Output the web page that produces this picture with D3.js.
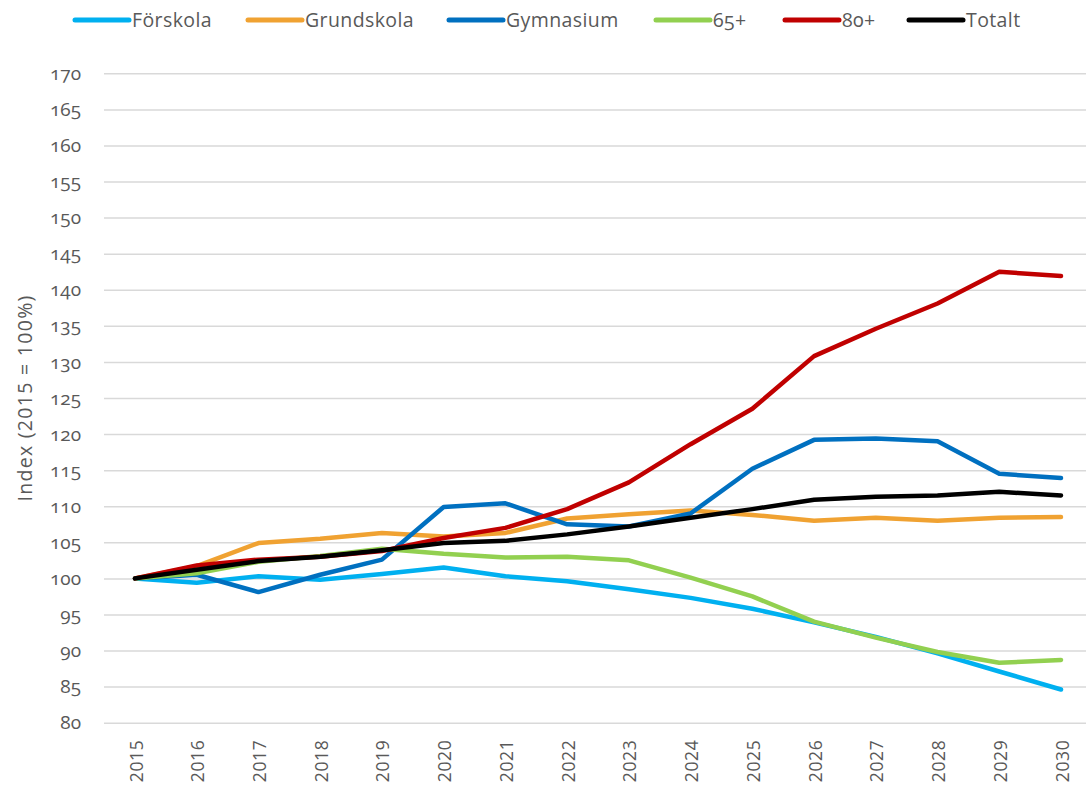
<!DOCTYPE html>
<html>
<head>
<meta charset="utf-8">
<script src="https://cdn.jsdelivr.net/npm/d3@7"></script>
<style>
  body { margin: 0; background: #fff; }
  svg text { font-family: "Open Sans", "Noto Sans", sans-serif; fill: #595959; }
  .onum { font-variant-numeric: oldstyle-nums; }
</style>
</head>
<body>
<svg id="chart" width="1086" height="786"></svg>
<script>
const years = [2015, 2016, 2017, 2018, 2019, 2020, 2021, 2022, 2023, 2024, 2025, 2026, 2027, 2028, 2029, 2030]
const yTicks = [80, 85, 90, 95, 100, 105, 110, 115, 120, 125, 130, 135, 140, 145, 150, 155, 160, 165, 170]

const forskola   = [100, 99.4, 100.3, 99.8, 100.6, 101.5, 100.3, 99.6, 98.5, 97.3, 95.8, 93.9, 91.9, 89.6, 87.1, 84.6]
const grundskola = [100, 101.7, 104.9, 105.5, 106.3, 105.8, 106.3, 108.3, 108.9, 109.4, 108.8, 108.0, 108.4, 108.0, 108.4, 108.5]
const gymnasium  = [100, 100.5, 98.1, 100.5, 102.6, 109.9, 110.4, 107.5, 107.2, 109.0, 115.2, 119.2, 119.4, 119.0, 114.5, 113.9]
const plus65     = [100, 100.7, 102.3, 103.1, 104.1, 103.4, 102.9, 103.0, 102.5, 100.1, 97.5, 94.0, 91.8, 89.8, 88.3, 88.7]
const plus80     = [100, 101.8, 102.6, 103.0, 103.8, 105.6, 107.0, 109.6, 113.3, 118.6, 123.5, 130.8, 134.6, 138.1, 142.5, 141.9]
const totalt     = [100, 101.2, 102.4, 103.0, 103.9, 104.9, 105.2, 106.1, 107.2, 108.4, 109.6, 110.9, 111.3, 111.5, 112.0, 111.5]

const series = [
  { name: 'Förskola', values: forskola, color: '#00B0F0' },
  { name: 'Grundskola', values: grundskola, color: '#F0A232' },
  { name: 'Gymnasium', values: gymnasium, color: '#0070C0' },
  { name: '65+', values: plus65, color: '#92D050' },
  { name: '80+', values: plus80, color: '#C00000' },
  { name: 'Totalt', values: totalt, color: '#000000' }
]

const svg = d3.select('#chart')

const x = d3.scalePoint().domain(years).range([135, 1061])
const y = d3.scaleLinear().domain([80, 170]).range([722.7, 73.3])
const gridLeft = 104, gridRight = 1086

// y axis with gridlines
const yAxis = svg.append('g')
  .attr('transform', `translate(${gridLeft},0)`)
  .call(d3.axisLeft(y).tickValues(yTicks).tickSize(-(gridRight - gridLeft)).tickPadding(23))

yAxis.select('.domain').remove()
yAxis.selectAll('line').attr('stroke', '#d9d9d9').attr('stroke-width', 1.5)
yAxis.selectAll('text')
  .attr('class', 'onum')
  .attr('font-size', 19)
  .attr('font-family', null)
  .style('fill', '#595959')

// x axis, rotated labels
const xAxis = svg.append('g')
  .attr('transform', `translate(0,${y(80)})`)
  .call(d3.axisBottom(x).tickSize(0))

xAxis.select('.domain').remove()
xAxis.selectAll('text')
  .attr('transform', 'rotate(-90)')
  .attr('x', -17)
  .attr('y', 0)
  .attr('dy', '0.4em')
  .attr('text-anchor', 'end')
  .attr('font-size', 17.5)
  .attr('letter-spacing', 0.6)
  .style('fill', '#595959')

// axis title
svg.append('text')
  .attr('transform', `translate(25,${(y(80) + y(170)) / 2}) rotate(-90)`)
  .attr('text-anchor', 'middle')
  .attr('dy', '0.35em')
  .attr('font-size', 19.5)
  .attr('letter-spacing', 1.3)
  .text('Index (2015 = 100%)')

// lines
const line = d3.line()
  .x((d, i) => x(years[i]))
  .y(d => y(d))

svg.append('g')
  .selectAll('path')
  .data(series)
  .join('path')
  .attr('fill', 'none')
  .attr('stroke', d => d.color)
  .attr('stroke-width', 4.5)
  .attr('stroke-linejoin', 'round')
  .attr('stroke-linecap', 'round')
  .attr('d', d => line(d.values))

// legend
const legendX = [75, 248, 449, 656, 785, 909]
const legend = svg.append('g')
  .selectAll('g')
  .data(series)
  .join('g')
  .attr('transform', (d, i) => `translate(${legendX[i]},20)`)

legend.append('line')
  .attr('x1', 0).attr('x2', 54)
  .attr('stroke', d => d.color)
  .attr('stroke-width', 5)
  .attr('stroke-linecap', 'round')

legend.append('text')
  .attr('class', 'onum')
  .attr('x', 57)
  .attr('dy', '0.35em')
  .attr('font-size', 19.5)
  .attr('letter-spacing', 0.4)
  .text(d => d.name)
</script>
</body>
</html>
